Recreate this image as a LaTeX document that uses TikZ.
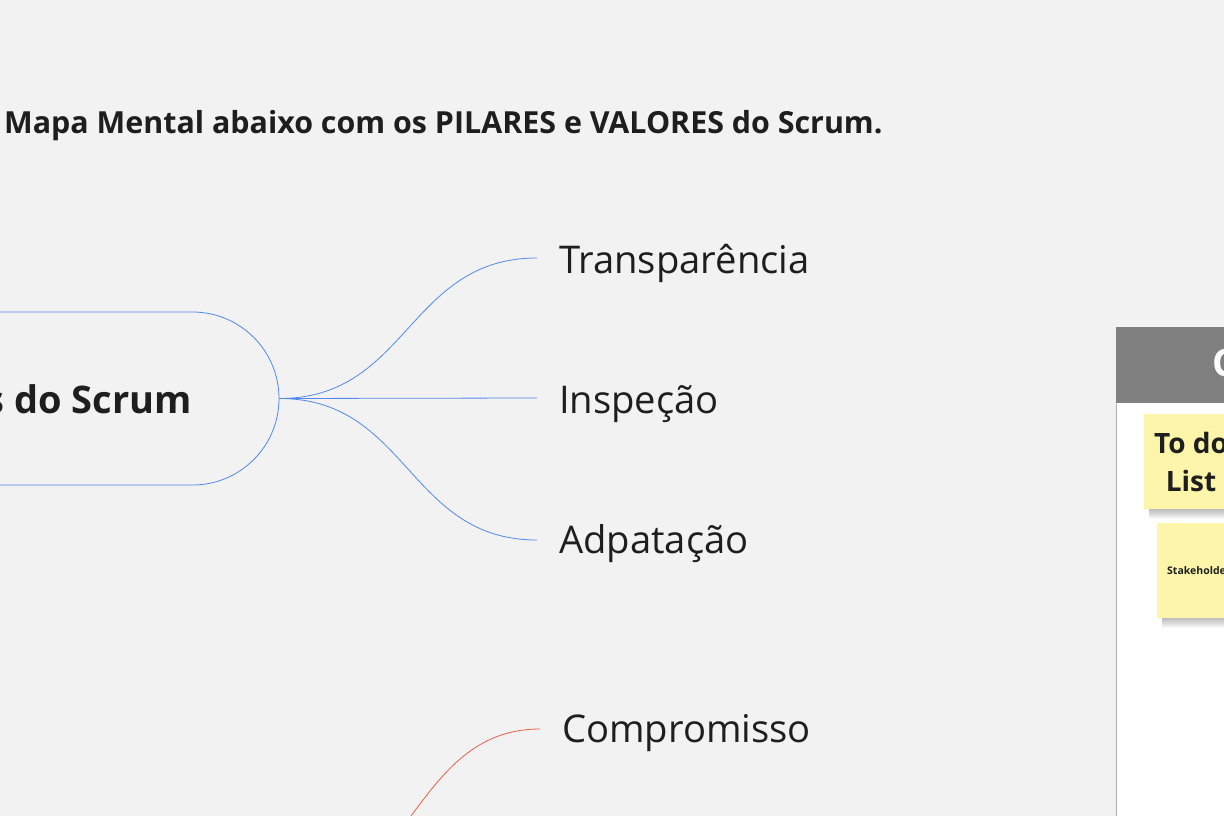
\documentclass[tikz,border=0pt]{standalone}
\usepackage{fontspec}
\setmainfont{Open Sans}
\definecolor{fundo}{HTML}{F2F2F2}
\definecolor{azul}{HTML}{5289EA}
\definecolor{vermelho}{HTML}{E5604A}
\definecolor{texto}{HTML}{1E1E1E}
\definecolor{post}{HTML}{FDF6AA}
\definecolor{cabeca}{HTML}{808080}
\begin{document}
\begin{tikzpicture}[x=1pt, y=-1pt]
\tikzstyle{pilar} = [draw=azul, line width=0.8pt, rounded corners=86.5pt, minimum width=478pt, minimum height=173pt, inner sep=0]
\tikzstyle{folha} = [anchor=base west, inner xsep=22pt, inner ysep=0, text=texto, font=\fontsize{38.2}{44}\selectfont]
\tikzstyle{ramo} = [draw=azul, line width=0.8pt]
\tikzstyle{nota} = [fill=post, anchor=north west, inner sep=0]
\tikzstyle{sombra} = [fill=black, opacity=0.028]

\useasboundingbox (0,0) rectangle (1224,816);
\clip (0,0) rectangle (1224,816);
\fill[fundo] (0,0) rectangle (1224,816);

% titulo
\node[anchor=base west, inner sep=0, text=texto, font=\bfseries\fontsize{30.4}{36}\selectfont] (titulo) at (4,133) {Mapa Mental abaixo com os PILARES e VALORES do Scrum.};

% pilares
\node[pilar] (pilares) at (40,398.5) {};
\node[anchor=base east, inner sep=0, text=texto, font=\bfseries\fontsize{38}{44}\selectfont] (pilarestit) at (192,413) {Pilares do Scrum};

\node[folha] (transp) at (537,273) {Transparência};
\node[folha] (insp) at (537,413) {Inspeção};
\node[folha] (adapt) at (537,553) {Adpatação};

\draw[ramo] (pilares.east) .. controls +(129,0) and +(-129,0) .. ([yshift=15pt]transp.base west);
\draw[ramo] (pilares.east) -- ([yshift=15pt]insp.base west);
\draw[ramo] (pilares.east) .. controls +(129,0) and +(-129,0) .. ([yshift=13pt]adapt.base west);

% valores
\coordinate (valores) at (282,903);
\node[folha] (compr) at (540,742) {Compromisso};
\draw[ramo, draw=vermelho] (valores) .. controls +(129,0) and +(-129,0) .. ([yshift=13pt]compr.base west);

% quadro
\fill[white] (1116,327) rectangle (1240,830);
\draw[black!30, line width=1pt] (1116,830) -- (1116,327);
\fill[cabeca] (1116,327) rectangle (1240,403);
\node[anchor=base west, inner sep=0, text=white, font=\bfseries\fontsize{38}{44}\selectfont] (quadrotit) at (1212,376) {C};

% notas
\foreach \d in {1,...,11} {
  \fill[sombra] (1149,430) rectangle (1240,508+\d);
  \fill[sombra] (1162,540) rectangle (1240,617+\d);
}
\node[nota, minimum width=100pt, minimum height=95pt] (todo) at (1144,414) {};
\node[anchor=center, align=center, inner sep=0, text=texto, font=\bfseries\fontsize{28}{38}\selectfont] (todotxt) at (1191,462) {To do\\List};
\node[nota, minimum width=90pt, minimum height=95pt] (stake) at (1157,523) {};
\node[anchor=base west, inner sep=0, text=texto, font=\bfseries\fontsize{10.5}{12}\selectfont] (staketxt) at (1167,574) {Stakeholders};
\end{tikzpicture}
\end{document}
